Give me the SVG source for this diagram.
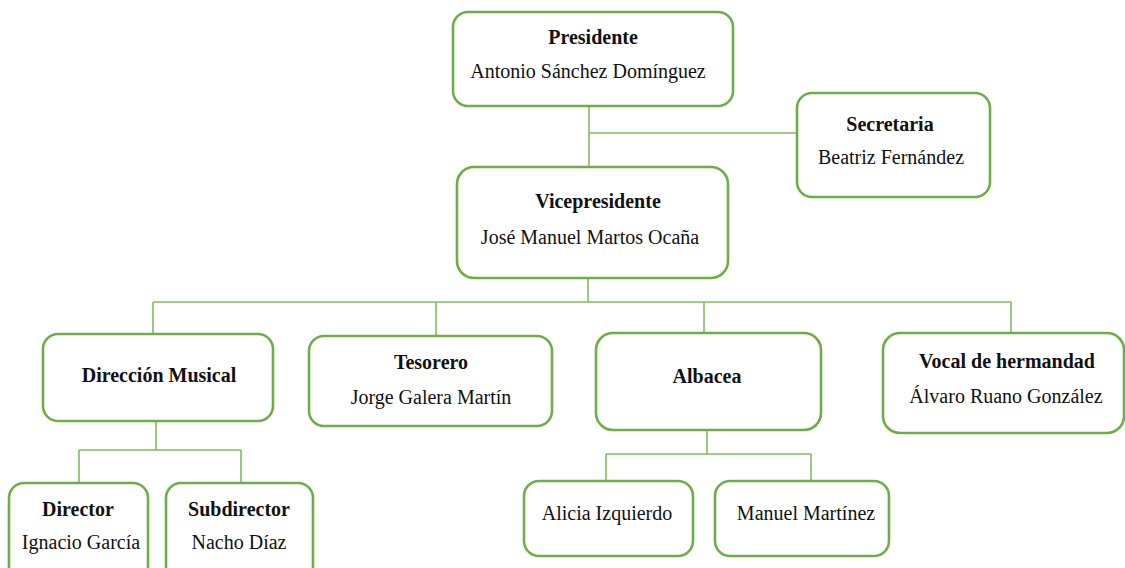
<svg xmlns="http://www.w3.org/2000/svg" width="1125" height="568" viewBox="0 0 1125 568">
<style>
.box{fill:#ffffff;stroke:#70AD47;stroke-width:2.6}
.con{fill:none;stroke:#84BC5E;stroke-width:1.6}
.t{font-family:"Liberation Serif","Times New Roman",serif;font-size:20px;fill:#111111;text-anchor:middle}
.b{font-weight:bold}
</style>
<rect width="1125" height="568" fill="#ffffff"/>
<g id="connectors">
<path class="con" d="M589,107 V168 M589,133 H797"/>
<path class="con" d="M588,278 V302 M153,302 H1011 M153,302 V334 M436,302 V336 M704,302 V333 M1011,302 V333"/>
<path class="con" d="M156,421 V450 M79,450 H241 M79,450 V483 M241,450 V483"/>
<path class="con" d="M707,430 V454 M606,454 H811 M606,454 V481 M811,454 V481"/>
</g>
<g id="presidente">
<rect class="box" x="453" y="12" width="280" height="94" rx="15"/>
<text class="t b" x="593" y="44">Presidente</text>
<text class="t" x="588" y="78">Antonio Sánchez Domínguez</text>
</g>
<g id="secretaria">
<rect class="box" x="797" y="93" width="193" height="104" rx="15"/>
<text class="t b" x="890" y="131">Secretaria</text>
<text class="t" x="891" y="164">Beatriz Fernández</text>
</g>
<g id="vicepresidente">
<rect class="box" x="457" y="167" width="271" height="111" rx="17"/>
<text class="t b" x="598" y="208">Vicepresidente</text>
<text class="t" x="590" y="244">José Manuel Martos Ocaña</text>
</g>
<g id="direccion">
<rect class="box" x="43" y="334" width="230" height="87" rx="15"/>
<text class="t b" x="159" y="382">Dirección Musical</text>
</g>
<g id="tesorero">
<rect class="box" x="309" y="336" width="243" height="90" rx="15"/>
<text class="t b" x="431" y="369">Tesorero</text>
<text class="t" x="431" y="404">Jorge Galera Martín</text>
</g>
<g id="albacea">
<rect class="box" x="596" y="333" width="225" height="97" rx="17"/>
<text class="t b" x="707" y="383">Albacea</text>
</g>
<g id="vocal">
<rect class="box" x="883" y="333" width="241" height="100" rx="17"/>
<text class="t b" x="1007" y="368">Vocal de hermandad</text>
<text class="t" x="1006" y="403">Álvaro Ruano González</text>
</g>
<g id="director">
<rect class="box" x="9" y="483" width="139" height="100" rx="15"/>
<text class="t b" x="78" y="516">Director</text>
<text class="t" x="81" y="549">Ignacio García</text>
</g>
<g id="subdirector">
<rect class="box" x="166" y="483" width="147" height="100" rx="15"/>
<text class="t b" x="239" y="516">Subdirector</text>
<text class="t" x="239" y="549">Nacho Díaz</text>
</g>
<g id="alicia">
<rect class="box" x="524" y="481" width="169" height="75" rx="15"/>
<text class="t" x="607" y="520">Alicia Izquierdo</text>
</g>
<g id="manuel">
<rect class="box" x="715" y="481" width="174" height="75" rx="15"/>
<text class="t" x="806" y="520">Manuel Martínez</text>
</g>
</svg>
